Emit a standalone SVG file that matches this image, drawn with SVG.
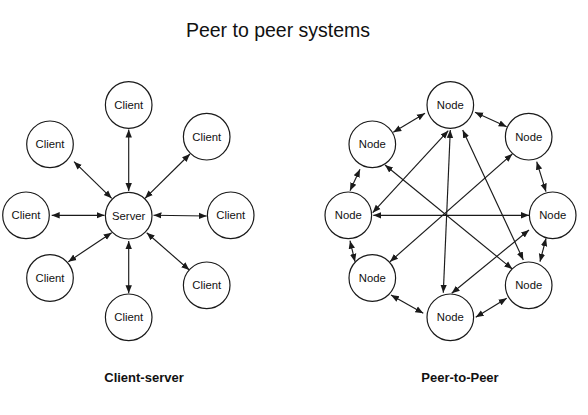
<svg xmlns="http://www.w3.org/2000/svg" width="588" height="415" viewBox="0 0 588 415">
<defs>
<marker id="ah" viewBox="0 0 10 10" refX="10" refY="5" markerWidth="8" markerHeight="8" markerUnits="userSpaceOnUse" orient="auto-start-reverse">
<path d="M0,1 L10,5 L0,9 z" fill="#1a1a1a"/>
</marker>
</defs>
<style>
.n circle{fill:#fff;stroke:#1a1a1a;stroke-width:1.2}
.n text{font-family:"Liberation Sans",Arial,sans-serif;font-size:11.3px;fill:#111;text-anchor:middle;dominant-baseline:central}
.e line{stroke:#1a1a1a;stroke-width:1.15;marker-start:url(#ah);marker-end:url(#ah)}
.t{font-family:"Liberation Sans",Arial,sans-serif;fill:#111;text-anchor:middle}
</style>
<rect width="588" height="415" fill="#fff"/>
<text class="t" x="278" y="37" font-size="19.5">Peer to peer systems</text>
<text class="t" x="144" y="382" font-size="13" font-weight="bold">Client-server</text>
<text class="t" x="460" y="382" font-size="13" font-weight="bold">Peer-to-Peer</text>

<g id="connectors" class="e">
<line x1="128.7" y1="129.5" x2="128.7" y2="191"/>
<line x1="74" y1="161.7" x2="111.7" y2="198.3"/>
<line x1="190" y1="154" x2="145" y2="198.3"/>
<line x1="51.7" y1="215.3" x2="104.5" y2="215.3"/>
<line x1="153.5" y1="215.3" x2="206.7" y2="216"/>
<line x1="68.3" y1="261.7" x2="111.7" y2="232.7"/>
<line x1="128.7" y1="241" x2="128.7" y2="293.3"/>
<line x1="146.7" y1="232.7" x2="189.3" y2="270"/>

<line x1="425" y1="113.3" x2="393.3" y2="132.3"/>
<line x1="360" y1="169.3" x2="350" y2="190.7"/>
<line x1="350" y1="240.7" x2="355" y2="261.7"/>
<line x1="391" y1="295" x2="423.3" y2="313.3"/>
<line x1="475.7" y1="317.3" x2="506.7" y2="298.3"/>
<line x1="546" y1="238.3" x2="540" y2="261.7"/>
<line x1="536.7" y1="161.7" x2="546" y2="191.7"/>
<line x1="475" y1="112.3" x2="506.7" y2="126.7"/>

<line x1="448.3" y1="130.7" x2="372.7" y2="212.7"/>
<line x1="450.3" y1="130" x2="443.3" y2="292.7"/>
<line x1="462.7" y1="130" x2="523.3" y2="260"/>
<line x1="385" y1="165" x2="512.3" y2="269"/>
<line x1="373.3" y1="215.3" x2="529" y2="215.3"/>
<line x1="512.3" y1="154" x2="390" y2="261.7"/>
<line x1="529" y1="230" x2="451.7" y2="293.3"/>
</g>

<g id="cs-top" class="n"><circle cx="128.7" cy="105" r="23.3"/><text x="128.7" y="105">Client</text></g>
<g id="cs-topleft" class="n"><circle cx="50" cy="144.3" r="23.3"/><text x="50" y="144.3">Client</text></g>
<g id="cs-topright" class="n"><circle cx="206.7" cy="136.7" r="23.3"/><text x="206.7" y="136.7">Client</text></g>
<g id="cs-left" class="n"><circle cx="26" cy="215.3" r="23.3"/><text x="26" y="215.3">Client</text></g>
<g id="cs-server" class="n"><circle cx="128.7" cy="215.7" r="23.3"/><text x="128.7" y="215.7">Server</text></g>
<g id="cs-right" class="n"><circle cx="230.7" cy="215.3" r="23.3"/><text x="230.7" y="215.3">Client</text></g>
<g id="cs-bottomleft" class="n"><circle cx="50" cy="278" r="23.3"/><text x="50" y="278">Client</text></g>
<g id="cs-bottomright" class="n"><circle cx="206.7" cy="285.3" r="23.3"/><text x="206.7" y="285.3">Client</text></g>
<g id="cs-bottom" class="n"><circle cx="128.7" cy="317.3" r="23.3"/><text x="128.7" y="317.3">Client</text></g>

<g id="p2p-top" class="n"><circle cx="450.3" cy="105" r="23.3"/><text x="450.3" y="105">Node</text></g>
<g id="p2p-topleft" class="n"><circle cx="372.3" cy="144.3" r="23.3"/><text x="372.3" y="144.3">Node</text></g>
<g id="p2p-topright" class="n"><circle cx="528.7" cy="136.7" r="23.3"/><text x="528.7" y="136.7">Node</text></g>
<g id="p2p-left" class="n"><circle cx="348.3" cy="215.3" r="23.3"/><text x="348.3" y="215.3">Node</text></g>
<g id="p2p-right" class="n"><circle cx="552.7" cy="215.3" r="23.3"/><text x="552.7" y="215.3">Node</text></g>
<g id="p2p-bottomleft" class="n"><circle cx="372.3" cy="278" r="23.3"/><text x="372.3" y="278">Node</text></g>
<g id="p2p-bottomright" class="n"><circle cx="528.7" cy="285.3" r="23.3"/><text x="528.7" y="285.3">Node</text></g>
<g id="p2p-bottom" class="n"><circle cx="450.3" cy="317.3" r="23.3"/><text x="450.3" y="317.3">Node</text></g>
</svg>
